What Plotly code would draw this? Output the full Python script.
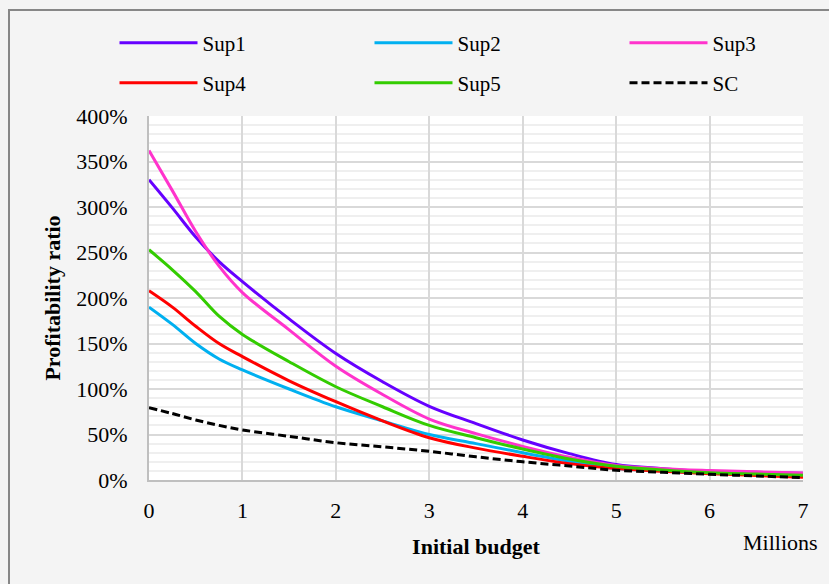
import plotly.graph_objects as go

x_budget = [0, 0.25, 0.5, 0.75, 1, 1.5, 2, 2.5, 3, 3.5, 4, 4.5, 5, 5.5, 6, 6.5, 7]
sup1 = [330, 299, 267, 240, 218, 177, 139, 108, 81, 62, 44, 29, 17, 12.5, 9.5, 8.5, 7.3]
sup2 = [190, 171, 150, 133, 121, 100, 80.5, 65, 50, 40, 30, 20.6, 12.5, 10, 7.5, 6, 4.5]
sup3 = [362, 318, 273, 235, 206, 165, 125, 94, 67, 51, 37, 25, 16, 12.5, 10.5, 9, 7.7]
sup4 = [208, 190, 169, 150, 135.6, 109, 86, 65, 46.5, 35, 26, 18, 12.5, 9.5, 7, 5, 3]
sup5 = [253, 231, 207, 180, 160, 130, 102.5, 80.5, 60, 46.5, 34, 23, 15, 11, 8, 6.5, 5.2]
sc = [79.4, 73, 66, 60, 55, 48, 41, 36.5, 31.5, 25.5, 20, 15.4, 10.7, 8.5, 6.3, 4.5, 2.6]

series = [
    ("Sup1", sup1, "#6600ff", "solid", "legend"),
    ("Sup2", sup2, "#00b0f0", "solid", "legend"),
    ("Sup3", sup3, "#ff33cc", "solid", "legend"),
    ("Sup4", sup4, "#ff0000", "solid", "legend2"),
    ("Sup5", sup5, "#33cc00", "solid", "legend2"),
    ("SC", sc, "#000000", "8px,4px", "legend2"),
]

FONT = "Liberation Serif"
FS = 22
fig = go.Figure()
for name, ys, color, dash, lg in series:
    fig.add_trace(go.Scatter(
        x=x_budget, y=ys, name=name, mode="lines", legend=lg,
        line=dict(color=color, width=3, dash=dash, shape="spline", smoothing=1.0),
    ))

W, H = 829, 584
L, R, T, B = 149, 26, 116, 104
pw, ph = W - L - R, H - T - B

def px2x(px):
    return (px - L) / pw

def py2y(py):
    return (H - B - py) / ph

legend_common = dict(
    orientation="h", xanchor="left", yanchor="middle",
    font=dict(family=FONT, size=21, color="#000"),
    bgcolor="rgba(0,0,0,0)", itemwidth=78, entrywidth=162,
    tracegroupgap=0, itemclick=False,
)

fig.update_layout(
    width=W, height=H,
    margin=dict(l=L, r=R, t=T, b=B, autoexpand=False),
    paper_bgcolor="#f4f4f4",
    plot_bgcolor="#ffffff",
    font=dict(family=FONT, size=FS, color="#000"),
    showlegend=True,
    legend=dict(x=px2x(114.5), y=py2y(43), **legend_common),
    legend2=dict(x=px2x(114.5), y=py2y(83), **legend_common),
    xaxis=dict(
        range=[0, 7], dtick=1, tick0=0,
        showgrid=True, gridcolor="#d9d9d9", gridwidth=2,
        showline=True, linecolor="#bfbfbf", linewidth=2,
        zeroline=False, ticks="", ticklabelstandoff=10,
        tickfont=dict(family=FONT, size=FS),
        title=dict(text="<b>Initial budget</b>", font=dict(family=FONT, size=FS), standoff=16),
        fixedrange=True, automargin=False,
    ),
    yaxis=dict(
        range=[0, 400], dtick=50, tick0=0, ticksuffix="%",
        showgrid=True, gridcolor="#d9d9d9", gridwidth=2,
        minor=dict(dtick=10, showgrid=True, gridcolor="#efefef", gridwidth=1.5),
        showline=True, linecolor="#bfbfbf", linewidth=2,
        zeroline=False, ticks="", ticklabelstandoff=15,
        tickfont=dict(family=FONT, size=FS),
        title=dict(text="<b>Profitability ratio</b>", font=dict(family=FONT, size=FS), standoff=10),
        fixedrange=True, automargin=False,
    ),
    shapes=[dict(
        type="rect", xref="paper", yref="paper", layer="below",
        x0=px2x(9), x1=px2x(840), y0=py2y(595), y1=py2y(10),
        line=dict(color="#878787", width=2), fillcolor="rgba(0,0,0,0)",
    )],
    annotations=[dict(
        text="Millions", xref="paper", yref="paper", showarrow=False,
        x=px2x(780), y=py2y(542), xanchor="center", yanchor="middle",
        font=dict(family=FONT, size=FS, color="#000"),
    )],
)

fig.write_html("out.html", config={"displayModeBar": False},
               post_script="document.body.style.margin='0';")
